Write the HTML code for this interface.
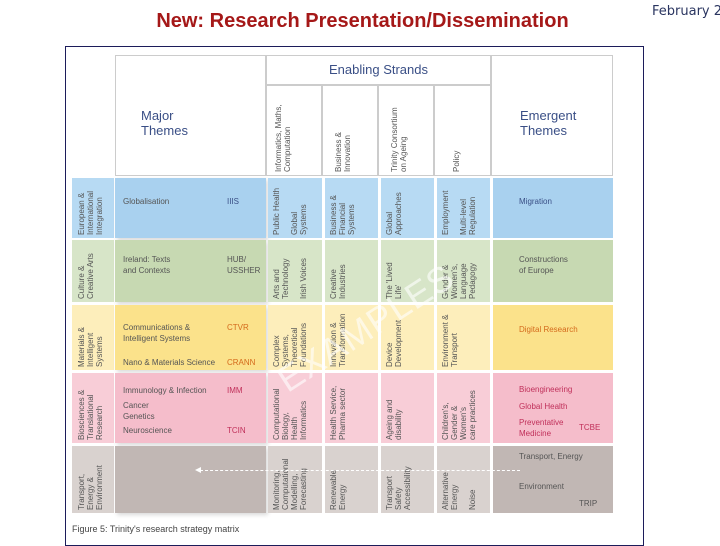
<!DOCTYPE html>
<html><head><meta charset="utf-8">
<style>
body{margin:0;width:720px;height:540px;background:#fff;position:relative;overflow:hidden;font-family:"Liberation Sans",sans-serif}
.a{position:absolute;box-sizing:border-box}
.v{position:absolute;box-sizing:border-box;writing-mode:vertical-rl;transform:rotate(180deg);font-size:8px;line-height:9px;color:#555;padding:3px 4px;display:flex;gap:8px}
.t{position:absolute;font-size:8px;line-height:11px;color:#555}
.hdr{position:absolute;box-sizing:border-box;border:1px solid #ccc;background:#fff}
</style></head><body>
<div class="a" style="left:80px;top:10px;width:565px;text-align:center;font-size:20px;font-weight:bold;color:#a51818">New: Research Presentation/Dissemination</div>
<div class="a" style="left:652px;top:4px;font-size:13px;color:#2a3560;font-family:'DejaVu Sans',sans-serif;white-space:nowrap">February 200</div>
<div class="a" style="left:65px;top:46px;width:579px;height:500px;border:1px solid #1c1c5a"></div>

<div class="hdr" style="left:115px;top:55px;width:151px;height:121px"><div style="position:absolute;left:25px;top:52px;font-size:13px;color:#3a4f86;line-height:15px">Major<br>Themes</div></div>
<div class="hdr" style="left:266px;top:55px;width:225px;height:30px;text-align:center;font-size:13px;line-height:28px;color:#3a4f86">Enabling Strands</div>
<div class="hdr" style="left:266px;top:85px;width:56px;height:91px"></div>
<div class="v" style="left:266px;top:85px;width:56px;height:91px;padding:4px 8px">Informatics, Maths,<br>Computation</div>
<div class="hdr" style="left:322px;top:85px;width:56px;height:91px"></div>
<div class="v" style="left:322px;top:85px;width:56px;height:91px;padding:4px 12px">Business &amp;<br>Innovation</div>
<div class="hdr" style="left:378px;top:85px;width:56px;height:91px"></div>
<div class="v" style="left:378px;top:85px;width:56px;height:91px;padding:4px 12px">Trinity Consortium<br>on Ageing</div>
<div class="hdr" style="left:434px;top:85px;width:57px;height:91px"></div>
<div class="v" style="left:434px;top:85px;width:57px;height:91px;padding:4px 18px">Policy</div>
<div class="hdr" style="left:491px;top:55px;width:122px;height:121px"><div style="position:absolute;left:28px;top:52px;font-size:13px;color:#3a4f86;line-height:15px">Emergent<br>Themes</div></div>

<div id="rows"></div>

<div class="a" style="left:200px;top:470px;width:320px;border-top:1px dashed #fff"></div>
<div class="a" style="left:195px;top:467px;width:0;height:0;border-top:3px solid transparent;border-bottom:3px solid transparent;border-right:6px solid #fff"></div>
<div class="a" style="left:292px;top:360px;font-size:36px;line-height:40px;color:rgba(255,255,255,0.6);transform:rotate(-33deg);transform-origin:left bottom;letter-spacing:1px">EXAMPLES</div>
<div class="a" style="left:72px;top:524px;font-size:9px;color:#444">Figure 5: Trinity's research strategy matrix</div>

<script>
const rowNames=['globalisation','ireland','materials','biosciences','transport'];
const rowTops=[178,240,305,373,446];
const rowH=[60,62,65,70,67];
const light=['#b7daf3','#d7e5c8','#fdeebb','#f8cdd7','#d9d2cf'];
const dark=['#a9d1ef','#c7d9b2','#fbe28b','#f5bdcb','#c1b7b4'];
const leftLbl=['European &amp;<br>International<br>Integration','Culture &amp;<br>Creative Arts','Materials &amp;<br>Intelligent<br>Systems','Biosciences &amp;<br>Translational<br>Research','Transport,<br>Energy &amp;<br>Environment'];
const major=[
'<div class="t" style="left:8px;top:18px">Globalisation</div><div class="t" style="left:112px;top:18px;color:#3a4f86">IIIS</div>',
'<div class="t" style="left:8px;top:14px">Ireland: Texts<br>and Contexts</div><div class="t" style="left:112px;top:14px">HUB/<br>USSHER</div>',
'<div class="t" style="left:8px;top:17px">Communications &amp;<br>Intelligent Systems</div><div class="t" style="left:112px;top:17px;color:#d46a1c">CTVR</div><div class="t" style="left:8px;top:52px">Nano &amp; Materials Science</div><div class="t" style="left:112px;top:52px;color:#d46a1c">CRANN</div>',
'<div class="t" style="left:8px;top:12px">Immunology &amp; Infection</div><div class="t" style="left:112px;top:12px;color:#c0305a">IMM</div><div class="t" style="left:8px;top:27px">Cancer<br>Genetics</div><div class="t" style="left:8px;top:52px">Neuroscience</div><div class="t" style="left:112px;top:52px;color:#c0305a">TCIN</div>',
''];
const cells=[
['Public Health<br><br>Global<br>Systems','Business &amp;<br>Financial<br>Systems','Global<br>Approaches','Employment<br><br>Multi-level<br>Regulation'],
['Arts and<br>Technology<br><br>Irish Voices','Creative<br>Industries','The \'Lived<br>Life\'','Gender &amp;<br>Women\'s,<br>Language<br>Pedagogy'],
['Complex<br>Systems,<br>Theoretical<br>Foundations','Innovation &amp;<br>Transformation','Device<br>Development','Environment &amp;<br>Transport'],
['Computational<br>Biology,<br>Health<br>Informatics','Health Service,<br>Pharma sector','Ageing and<br>disability','Children\'s,<br>Gender &amp;<br>Women\'s<br>care practices'],
['Monitoring,<br>Computational<br>Modelling,<br>Forecasting','Renewable<br>Energy','Transport<br>Safety<br>Accessibility','Alternative<br>Energy<br><br>Noise']];
const emerg=[
'<div class="t" style="left:26px;top:18px;color:#3a4f86">Migration</div>',
'<div class="t" style="left:26px;top:14px">Constructions<br>of Europe</div>',
'<div class="t" style="left:26px;top:19px;color:#d46a1c">Digital Research</div>',
'<div class="t" style="left:26px;top:11px;color:#c0305a">Bioengineering</div><div class="t" style="left:26px;top:28px;color:#c0305a">Global Health</div><div class="t" style="left:26px;top:44px;color:#c0305a">Preventative<br>Medicine</div><div class="t" style="left:86px;top:49px;color:#c0305a">TCBE</div>',
'<div class="t" style="left:26px;top:5px">Transport, Energy</div><div class="t" style="left:26px;top:35px">Environment</div><div class="t" style="left:86px;top:52px">TRIP</div>'];
const colX=[268,325,381,437];
const colW=[54,53,53,53];
const root=document.getElementById('rows');
function mk(cls,style,html){const d=document.createElement('div');d.className=cls;d.style.cssText=style;d.innerHTML=html;root.appendChild(d);return d;}
for(let r=0;r<rowNames.length;r++){
  const y=rowTops[r],h=rowH[r];
  const l=mk('v',`left:72px;top:${y}px;width:42px;height:${h}px;background:${light[r]};padding:3px 5px;`,leftLbl[r]);
  
  
  const m=mk('a',`left:115px;top:${y}px;width:151px;height:${h}px;background:${dark[r]};box-shadow:2px 2px 4px rgba(0,0,0,0.15)`,major[r]);
  
  
  for(let c=0;c<4;c++){
    const e=mk('v',`left:${colX[c]}px;top:${y}px;width:${colW[c]}px;height:${h}px;background:${light[r]};justify-content:flex-start;`,cells[r][c]);
    
    
  }
  const em=mk('a',`left:493px;top:${y}px;width:120px;height:${h}px;background:${dark[r]}`,emerg[r]);
  
  
}
</script>
</body></html>
